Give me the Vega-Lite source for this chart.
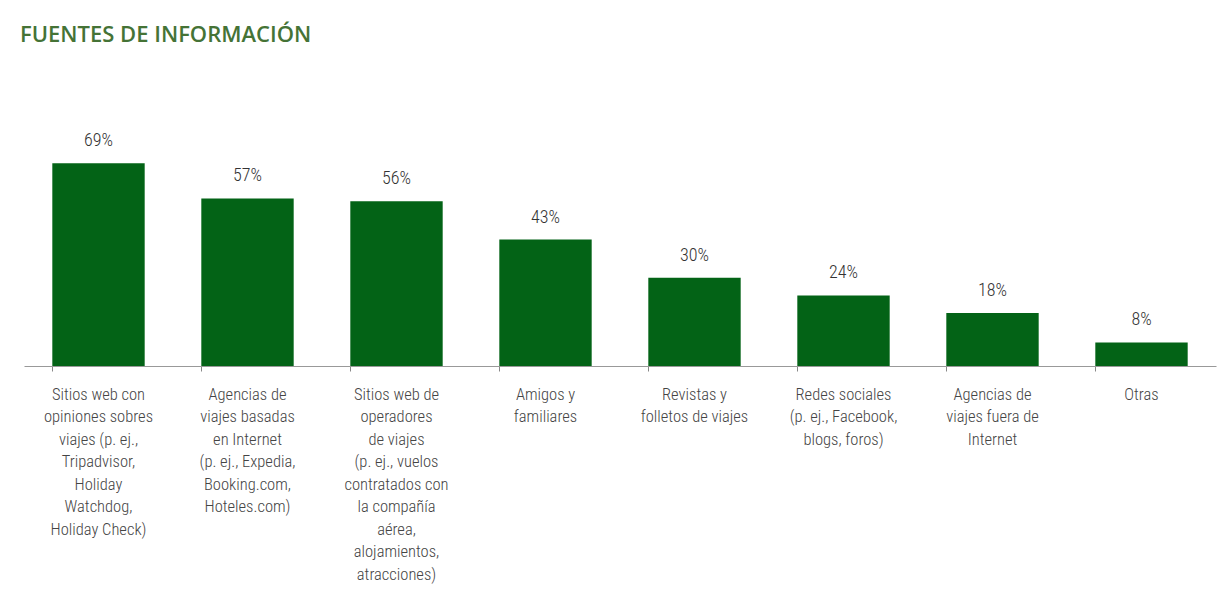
{
  "$schema": "https://vega.github.io/schema/vega-lite/v6.json",
  "autosize": {"type": "none"},
  "width": 1192,
  "height": 294,
  "padding": {"left": 24, "top": 72, "right": 13, "bottom": 241},
  "background": "white",
  "title": {
    "text": "FUENTES DE INFORMACIÓN",
    "anchor": "start",
    "frame": "group",
    "offset": 25,
    "dx": -4,
    "font": "Open Sans",
    "fontSize": 22,
    "fontWeight": 600,
    "color": "#457336"
  },
  "data": {
    "values": [
      {"fuente": "Sitios web con|opiniones sobres|viajes (p. ej.,|Tripadvisor,|Holiday|Watchdog,|Holiday Check)", "pct": 0.69},
      {"fuente": "Agencias de|viajes basadas|en Internet|(p. ej., Expedia,|Booking.com,|Hoteles.com)", "pct": 0.57},
      {"fuente": "Sitios web de|operadores|de viajes|(p. ej., vuelos|contratados con|la compañía|aérea,|alojamientos,|atracciones)", "pct": 0.56},
      {"fuente": "Amigos y|familiares", "pct": 0.43},
      {"fuente": "Revistas y|folletos de viajes", "pct": 0.30},
      {"fuente": "Redes sociales|(p. ej., Facebook,|blogs, foros)", "pct": 0.24},
      {"fuente": "Agencias de|viajes fuera de|Internet", "pct": 0.18},
      {"fuente": "Otras", "pct": 0.08}
    ]
  },
  "encoding": {
    "x": {
      "field": "fuente",
      "type": "nominal",
      "sort": null,
      "scale": {"paddingInner": 0.38, "paddingOuter": 0.19},
      "axis": {
        "title": null,
        "labelAngle": 0,
        "labelExpr": "split(datum.value, '|')",
        "labelFont": "Roboto Condensed, Liberation Sans Narrow, Roboto",
        "labelFontWeight": 300,
        "labelFontSize": 16.5,
        "labelColor": "#444444",
        "labelLineHeight": 22.5,
        "labelPadding": 15,
        "labelBaseline": "top",
        "bandPosition": 0,
        "tickSize": 5,
        "tickColor": "#888888",
        "domainColor": "#999999",
        "labelLimit": 0
      }
    },
    "y": {
      "field": "pct",
      "type": "quantitative",
      "scale": {"domain": [0, 1]},
      "axis": null
    }
  },
  "layer": [
    {"mark": {"type": "bar", "color": "#036316"}},
    {
      "mark": {
        "type": "text",
        "dy": -22,
        "fontSize": 18,
        "fontWeight": 300,
        "font": "Roboto Condensed, Liberation Sans Narrow, Roboto",
        "color": "#333333"
      },
      "encoding": {
        "text": {"field": "pct", "type": "quantitative", "format": ".0%"}
      }
    }
  ],
  "config": {"view": {"stroke": null}}
}
